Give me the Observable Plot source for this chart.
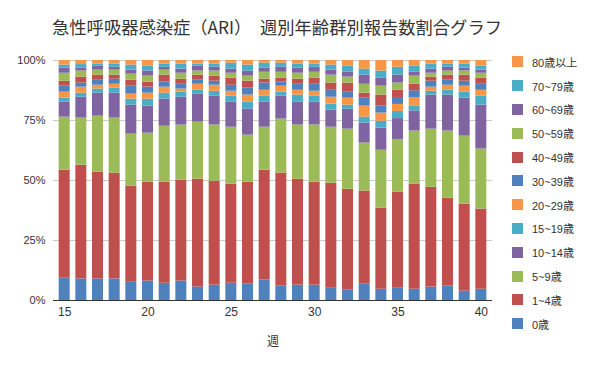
<!DOCTYPE html>
<html><head><meta charset="utf-8">
<script src="https://cdn.jsdelivr.net/npm/d3@7"></script>
<script src="https://cdn.jsdelivr.net/npm/@observablehq/plot@0.6"></script>
<style>
body{margin:0;background:#fff;}
#wrap{position:relative;width:600px;height:371px;font-family:"Liberation Sans","Noto Sans CJK JP",sans-serif;}
#title{position:absolute;left:0;width:554px;top:17px;line-height:20px;text-align:center;font-family:"Noto Sans CJK JP",sans-serif;font-size:17.3px;color:#333;white-space:nowrap;}
#legend{position:absolute;left:512px;top:50px;}
.item{display:flex;align-items:center;height:23.8px;font-size:11px;color:#333;white-space:nowrap;}
.sw{width:11px;height:11px;margin-right:9px;flex:none;}
#chart{position:absolute;left:0;top:0;}
</style>
</head><body>
<div id="wrap"><div id="chart"></div><div id="title"></div><div id="legend"></div></div>
<script>
const titleText = "急性呼吸器感染症（ARI）　週別年齢群別報告数割合グラフ";
const xLabel = "週";
const weeks = d3.range(15, 41);
const xTicks = [15, 20, 25, 30, 35, 40];
const yTicks = [0, 0.25, 0.5, 0.75, 1];
const ageGroups = ["0歳","1~4歳","5~9歳","10~14歳","15~19歳","20~29歳","30~39歳","40~49歳","50~59歳","60~69歳","70~79歳","80歳以上"];
const colors = ["#4f81bd","#c0504d","#9bbb59","#8064a2","#4bacc6","#f79646","#4f81bd","#c0504d","#9bbb59","#8064a2","#4bacc6","#f79646"];

const age0 = [9.3,9.0,9.0,9.0,7.6,8.1,7.2,8.1,5.6,6.4,7.2,6.8,8.5,6.0,6.4,6.4,5.1,4.3,6.8,4.7,5.1,4.7,5.6,6.0,3.9,4.7];
const age1_4 = [45.0,47.4,44.5,44.1,40.0,41.2,42.1,42.0,45.0,43.3,41.3,42.5,45.8,47.1,44.2,42.9,43.8,42.1,38.8,33.8,40.0,43.8,41.6,36.6,36.2,33.4];
const age5_9 = [22.1,19.6,23.3,22.9,21.7,20.4,23.3,23.0,23.7,23.4,23.7,19.6,17.9,22.5,22.5,23.8,23.3,25.0,20.0,24.1,22.0,22.1,24.2,28.0,28.4,25.0];
const age10_14 = [6.2,8.7,9.6,10.4,12.1,11.3,11.3,11.6,11.6,12.0,10.4,10.8,10.4,9.5,9.5,9.5,7.1,8.3,8.3,9.2,8.7,8.4,14.2,15.0,15.8,18.3];
const age15_19 = [1.7,1.7,1.7,2.1,2.5,2.9,2.5,2.1,1.7,2.1,2.5,2.9,2.5,1.7,3.0,2.5,2.5,1.7,2.5,2.9,3.0,2.1,1.6,2.0,2.5,3.7];
const age20_29 = [2.5,2.5,1.6,1.6,2.1,2.5,2.5,1.3,2.5,2.5,2.1,3.0,2.5,2.5,2.0,2.1,2.9,2.9,4.6,3.4,2.9,3.3,1.7,2.1,2.5,2.5];
const age30_39 = [2.5,1.7,2.1,2.1,3.3,2.5,2.1,2.0,1.7,1.7,2.5,2.9,3.0,1.7,2.5,2.9,2.9,2.5,3.3,2.9,2.9,3.0,2.5,2.1,2.1,2.5];
const age40_49 = [2.1,2.5,2.1,1.7,2.5,2.1,2.9,2.1,2.1,2.1,2.9,2.9,1.6,1.6,2.1,2.5,3.0,3.8,2.1,4.6,3.0,2.7,1.7,2.1,2.5,2.5];
const age50_59 = [3.3,2.5,2.1,2.1,2.5,2.5,2.1,2.5,1.7,2.1,2.1,2.1,2.9,2.5,2.5,2.5,3.3,2.5,3.7,3.7,3.0,3.4,1.6,1.7,1.7,2.1];
const age60_69 = [2.1,1.2,1.6,1.2,1.7,2.1,1.2,1.7,2.0,1.6,1.7,2.1,1.7,2.1,2.1,2.1,2.1,2.0,3.8,3.3,3.3,1.6,1.7,1.6,1.2,1.3];
const age70_79 = [1.3,1.5,0.9,1.3,2.1,2.0,1.3,2.1,0.9,1.3,2.5,2.5,2.1,1.7,1.7,1.3,2.1,2.5,2.5,3.0,3.3,2.5,2.1,1.3,1.7,1.6];
const age80 = [1.9,1.7,1.5,1.5,1.9,2.4,1.5,1.5,1.5,1.5,1.1,1.9,1.1,1.1,1.5,1.5,1.9,2.4,3.6,4.4,2.8,2.4,1.5,1.5,1.5,2.4];

const seriesList = [age0, age1_4, age5_9, age10_14, age15_19, age20_29, age30_39, age40_49, age50_59, age60_69, age70_79, age80];
const data = [];
weeks.forEach((w, i) => {
  ageGroups.forEach((g, j) => data.push({week: w, group: g, value: seriesList[j][i]}));
});

const chart = Plot.plot({
  width: 600, height: 371,
  marginLeft: 53, marginRight: 108, marginTop: 60, marginBottom: 71,
  style: {fontFamily: "Liberation Sans, Noto Sans CJK JP, sans-serif", fontSize: "12px", color: "#333", background: "transparent"},
  x: {type: "band", domain: weeks, padding: 0.34, round: false},
  y: {domain: [0, 1]},
  color: {domain: ageGroups, range: colors},
  marks: [
    Plot.gridY(yTicks, {stroke: "#cccccc", strokeOpacity: 1, strokeWidth: 1}),
    Plot.barY(data, {x: "week", y: "value", fill: "group", offset: "normalize", order: null}),
    Plot.ruleY([0], {stroke: "#333", strokeWidth: 1}),
    Plot.axisX(xTicks, {tickSize: 0, tickPadding: 7, label: null, fontSize: 12, fill: "#333"}),
    Plot.axisY(yTicks, {tickSize: 0, tickPadding: 8, label: null, fontSize: 11, fill: "#333", tickFormat: d => Math.round(d * 100) + "%"}),
    Plot.text([xLabel], {frameAnchor: "bottom", dy: 45, fontSize: 12, fill: "#333"})
  ]
});
document.getElementById("chart").appendChild(chart);
document.getElementById("title").textContent = titleText;
const legend = document.getElementById("legend");
ageGroups.slice().reverse().forEach((g) => {
  const idx = ageGroups.indexOf(g);
  const item = document.createElement("div");
  item.className = "item";
  const sw = document.createElement("div");
  sw.className = "sw";
  sw.style.background = colors[idx];
  const t = document.createElement("span");
  t.textContent = g;
  item.appendChild(sw); item.appendChild(t);
  legend.appendChild(item);
});
</script>
</body></html>
